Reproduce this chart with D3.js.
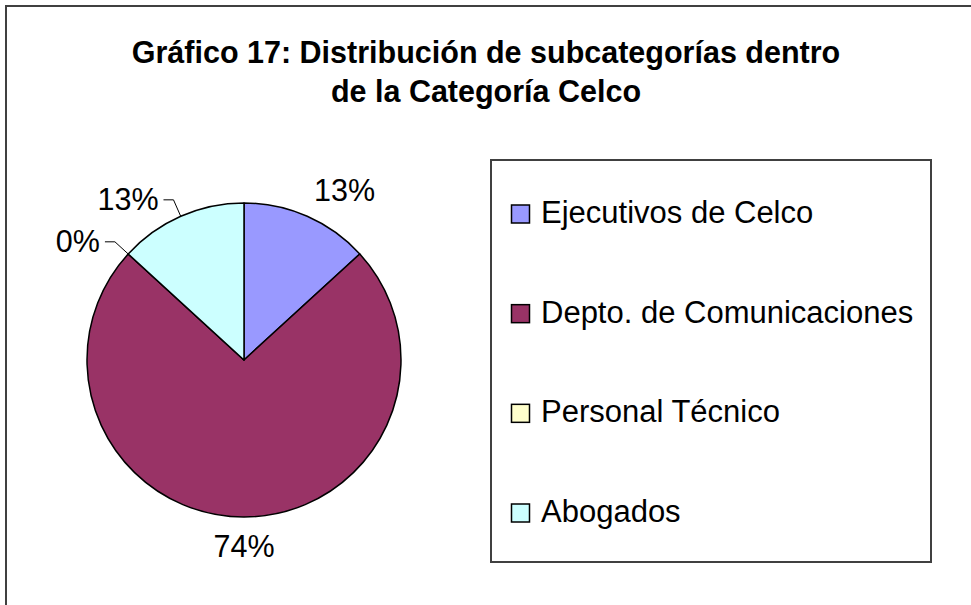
<!DOCTYPE html>
<html lang="es">
<head>
    <meta charset="UTF-8">
    <title>Gráfico 17</title>
    <script src="https://cdn.jsdelivr.net/npm/d3@7"></script>
    <style>
        body { margin: 0; background: #fff; }
        text { font-family: "Liberation Sans", Arial, sans-serif; fill: #000; }
        .title { font-size: 30.5px; font-weight: bold; }
        .lbl { font-size: 30.5px; }
        .leg { font-size: 31px; }
    </style>
</head>
<body>
<script>
    // datos
    const categories = ["Ejecutivos de Celco", "Depto. de Comunicaciones", "Personal Técnico", "Abogados"];
    const values = [13.2, 73.6, 0, 13.2];
    const colors = ["#9999FF", "#993366", "#FFFFCC", "#CCFFFF"];
    const titleLines = ["Gráfico 17: Distribución de subcategorías dentro", "de la Categoría Celco"];

    const width = 971, height = 605;
    const cx = 244, cy = 360, R = 157;

    const svg = d3.select("body").append("svg").attr("width", width).attr("height", height);

    // marco exterior
    svg.append("rect")
        .attr("x", 6).attr("y", 6).attr("width", 1000).attr("height", 700)
        .attr("fill", "#fff").attr("stroke", "#404040").attr("stroke-width", 2);

    // titulo
    svg.selectAll("text.title")
        .data(titleLines)
        .enter().append("text")
        .attr("class", "title")
        .attr("x", 486)
        .attr("y", (d, i) => 63 + i * 39)
        .attr("text-anchor", "middle")
        .text(d => d);

    // pastel
    const total = d3.sum(values);
    const pct = d3.format(".0%");
    const pie = d3.pie().sort(null).value(d => d);
    const arcs = pie(values);
    const arc = d3.arc().innerRadius(0).outerRadius(R);

    const g = svg.append("g").attr("transform", `translate(${cx},${cy})`);

    g.selectAll("path")
        .data(arcs)
        .enter().append("path")
        .attr("d", arc)
        .attr("fill", (d, i) => colors[i])
        .attr("stroke", "#000")
        .attr("stroke-width", 1.5)
        .attr("stroke-linejoin", "round");

    const pt = (a, r) => [Math.sin(a) * r, -Math.cos(a) * r];

    // etiquetas
    arcs.forEach((d, i) => {
        const a = (d.startAngle + d.endAngle) / 2;
        const txt = pct(d.value / total);
        if (a > Math.PI * 1.2) {
            // con linea guia
            const p0 = pt(a, R);
            const p1 = pt(a, R + 18);
            const p2 = [p1[0] - 10, p1[1]];
            g.append("polyline")
                .attr("points", [p0, p1, p2].map(p => p.join(",")).join(" "))
                .attr("fill", "none").attr("stroke", "#000").attr("stroke-width", 1);
            g.append("text").attr("class", "lbl")
                .attr("x", p2[0] - 5).attr("y", p2[1] + 10)
                .attr("text-anchor", "end")
                .text(txt);
        } else {
            const p = pt(a, R + 18);
            const w = 60, h = 22;
            const s = Math.sin(a);
            const dx = s > 0.1 ? w / 2 : (s < -0.1 ? -w / 2 : 0);
            const dy = -Math.cos(a) * h / 2;
            g.append("text").attr("class", "lbl")
                .attr("x", p[0] + dx).attr("y", p[1] + dy + 11)
                .attr("text-anchor", "middle")
                .text(txt);
        }
    });

    // leyenda
    const legend = svg.append("g");
    legend.append("rect")
        .attr("x", 491).attr("y", 160).attr("width", 440).attr("height", 402)
        .attr("fill", "#fff").attr("stroke", "#404040").attr("stroke-width", 2);

    const ly = d3.scalePoint().domain(categories).range([223, 522]);

    const item = legend.selectAll("g.item")
        .data(categories)
        .enter().append("g").attr("class", "item")
        .attr("transform", d => `translate(0,${ly(d)})`);

    item.append("rect")
        .attr("x", 511.5).attr("y", -18).attr("width", 18).attr("height", 18)
        .attr("fill", (d, i) => colors[i])
        .attr("stroke", "#000").attr("stroke-width", 1.5);

    item.append("text").attr("class", "leg")
        .attr("x", 541).attr("y", 0)
        .text(d => d);
</script>
</body>
</html>
